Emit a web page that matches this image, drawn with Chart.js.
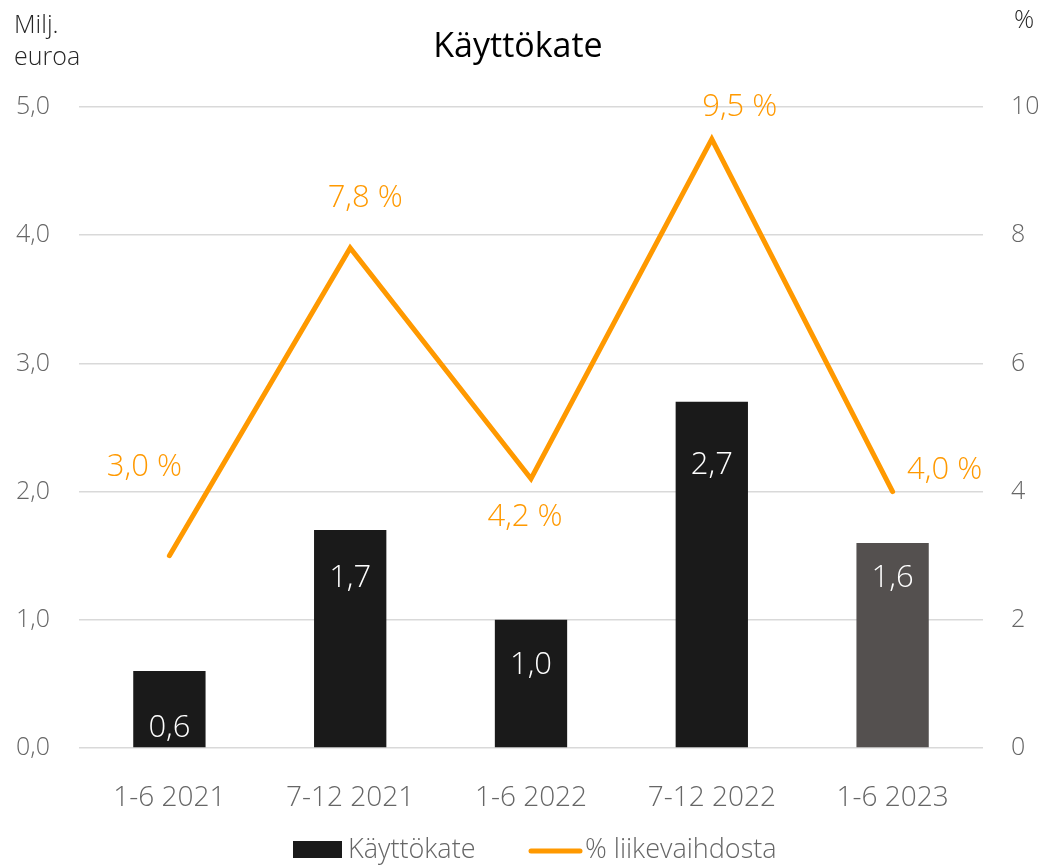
<!DOCTYPE html>
<html>
<head>
<meta charset="utf-8">
<script src="https://cdn.jsdelivr.net/npm/chart.js@4.4.0/dist/chart.umd.min.js"></script>
<style>
  html, body { margin: 0; padding: 0; background: #fff; }
  #wrap { width: 1043px; height: 865px; }
</style>
</head>
<body>
<div id="wrap"><canvas id="chart" width="1043" height="865"></canvas></div>
<script>
const periods = ['1-6 2021', '7-12 2021', '1-6 2022', '7-12 2022', '1-6 2023'];
const ebitda = [0.6, 1.7, 1.0, 2.7, 1.6];          // Milj. euroa
const ebitdaPct = [3.0, 7.8, 4.2, 9.5, 4.0];       // % liikevaihdosta
const leftTicks = [0, 1, 2, 3, 4, 5];
const rightTicks = [0, 2, 4, 6, 8, 10];

const barColors = ['#1a1a1a', '#1a1a1a', '#1a1a1a', '#1a1a1a', '#54504f'];
const orange = '#ff9900';
const grey = '#666666';
const FONT = '"Open Sans", "Noto Sans", sans-serif';
const W = '300 ';

// label placement, pixels (bar labels: below bar top; line labels: from point)
const barLabelDy = [57, 48, 45, 63, 35];
const pctLabelOffset = [[-25, -89], [15, -50], [-6, 38], [28, -32], [52, -21]];

const fmt = v => v.toFixed(1).replace('.', ',');

const textPlugin = {
  id: 'texts',
  afterDraw(chart) {
    const ctx = chart.ctx;
    ctx.save();

    // title and axis units
    ctx.fillStyle = '#000';
    ctx.font = '34px ' + FONT;
    ctx.textAlign = 'center';
    ctx.textBaseline = 'alphabetic';
    ctx.fillText('Käyttökate', 518, 57);

    ctx.fillStyle = '#262626';
    ctx.font = W + '25px ' + FONT;
    ctx.textAlign = 'left';
    ctx.fillText('Milj.', 14, 33);
    ctx.fillText('euroa', 14, 65);
    ctx.fillText('%', 1014, 28);

    // bar value labels
    const barMeta = chart.getDatasetMeta(0);
    ctx.font = W + '31px ' + FONT;
    ctx.fillStyle = '#fff';
    ctx.textAlign = 'center';
    ctx.textBaseline = 'middle';
    barMeta.data.forEach((bar, i) => {
      ctx.fillText(fmt(ebitda[i]), bar.x, bar.y + barLabelDy[i]);
    });

    // line value labels
    const lineMeta = chart.getDatasetMeta(1);
    ctx.fillStyle = orange;
    lineMeta.data.forEach((pt, i) => {
      const [dx, dy] = pctLabelOffset[i];
      ctx.fillText(fmt(ebitdaPct[i]) + ' %', pt.x + dx, pt.y + dy);
    });

    // legend
    ctx.font = W + '27px ' + FONT;
    ctx.textAlign = 'left';
    const ly = 850;
    let x = 293;
    ctx.fillStyle = '#1a1a1a';
    ctx.fillRect(x, ly - 9, 49, 17);
    ctx.fillStyle = grey;
    ctx.fillText(chart.data.datasets[0].label, x + 55, ly);
    x = 529;
    ctx.strokeStyle = orange;
    ctx.lineWidth = 5;
    ctx.lineCap = 'round';
    ctx.beginPath();
    ctx.moveTo(x + 2, ly + 1);
    ctx.lineTo(x + 51, ly + 1);
    ctx.stroke();
    ctx.fillStyle = grey;
    ctx.fillText(chart.data.datasets[1].label, x + 56, ly);

    ctx.restore();
  }
};

new Chart(document.getElementById('chart'), {
  data: {
    labels: periods,
    datasets: [
      {
        type: 'bar',
        label: 'Käyttökate',
        data: ebitda,
        backgroundColor: barColors,
        barPercentage: 0.8,
        categoryPercentage: 0.5,
        yAxisID: 'y',
        order: 2
      },
      {
        type: 'line',
        label: '% liikevaihdosta',
        data: ebitdaPct,
        borderColor: orange,
        backgroundColor: orange,
        borderWidth: 5,
        borderCapStyle: 'round',
        borderJoinStyle: 'miter',
        pointRadius: 0,
        tension: 0,
        yAxisID: 'y1',
        order: 1
      }
    ]
  },
  options: {
    responsive: false,
    animation: false,
    devicePixelRatio: 1,
    layout: { padding: { top: 107, left: 0, right: 0, bottom: 0 } },
    plugins: {
      legend: { display: false },
      title: { display: false },
      tooltip: { enabled: false }
    },
    scales: {
      x: {
        grid: { display: false },
        border: { display: false },
        ticks: { color: grey, font: { family: FONT, size: 28, weight: 300 }, padding: 25 },
        afterFit(scale) { scale.height = 117; }
      },
      y: {
        position: 'left',
        min: 0,
        max: 5,
        afterBuildTicks(scale) { scale.ticks = leftTicks.map(v => ({ value: v })); },
        ticks: {
          color: grey,
          font: { family: FONT, size: 25, weight: 300 },
          padding: 29,
          callback: v => fmt(v)
        },
        grid: { color: '#d9d9d9', lineWidth: 1.5, drawTicks: false },
        border: { display: false },
        afterFit(scale) { scale.width = 79; }
      },
      y1: {
        position: 'right',
        min: 0,
        max: 10,
        afterBuildTicks(scale) { scale.ticks = rightTicks.map(v => ({ value: v })); },
        ticks: {
          color: grey,
          font: { family: FONT, size: 25, weight: 300 },
          padding: 28,
          callback: v => String(v)
        },
        grid: { display: false, drawTicks: false },
        border: { display: false },
        afterFit(scale) { scale.width = 60; }
      }
    }
  },
  plugins: [textPlugin]
});
</script>
</body>
</html>
